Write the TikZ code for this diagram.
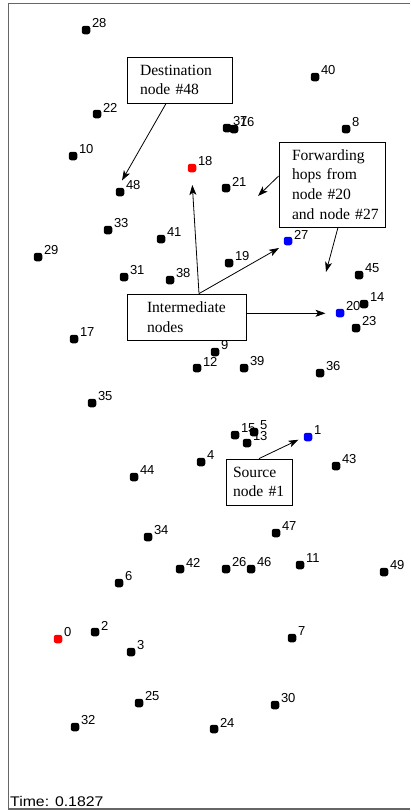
\documentclass[tikz,border=0pt]{standalone}
\usepackage{fontspec}
\setmainfont{Liberation Serif}
\newfontfamily\labfont{Liberation Sans}
\usetikzlibrary{arrows.meta,calc,backgrounds}
\tikzset{
  dotn/.style={rounded corners=2.5pt,rectangle,inner sep=0pt,minimum size=8.5pt,draw=none},
  labn/.style={inner sep=0pt,anchor=west,font=\labfont\fontsize{13}{13}\selectfont},
  boxn/.style={draw=black,line width=0.8pt,rectangle,align=left,
     font=\fontsize{15.6}{19.7}\selectfont,inner ysep=0pt},
  arr/.style={draw=black,line width=0.8pt,-{Stealth[length=10pt,width=7pt,inset=2.5pt]}},
  hop/.style={draw=black!65,line width=0.9pt},
  frame/.style={draw=black!60,line width=1.5pt}
}
\newcommand\mnode[4]{%
  \node[dotn,fill=#4] (n#1) at (#2,#3) {};
  \node[labn] (l#1) at (#2+5.8,#3-6.5) {#1};}
\begin{document}
\begin{tikzpicture}[x=1pt,y=-1pt]
\useasboundingbox (0,0) rectangle (410,811);
\fill[white] (0,0) rectangle (410,811);
\draw[frame] (410,3.5) -- (8.5,3.5) -- (8.5,809) -- (410,809);
\definecolor{nred}{RGB}{255,0,0}
\definecolor{nblue}{RGB}{0,0,255}
\mnode{0}{58}{639}{nred}
\mnode{1}{308}{437}{nblue}
\mnode{2}{95}{632}{black}
\mnode{3}{131}{652}{black}
\mnode{4}{201}{462}{black}
\mnode{5}{254}{432}{black}
\mnode{6}{119}{583}{black}
\mnode{7}{292}{638}{black}
\mnode{8}{346}{129}{black}
\mnode{9}{215}{352}{black}
\mnode{10}{73}{156}{black}
\mnode{11}{300}{565}{black}
\mnode{12}{197}{368}{black}
\mnode{13}{247}{443}{black}
\mnode{14}{364}{304}{black}
\mnode{15}{235}{435}{black}
\mnode{16}{234}{129}{black}
\mnode{17}{74}{339}{black}
\mnode{18}{192}{168}{nred}
\mnode{19}{229}{263}{black}
\mnode{20}{340}{313}{nblue}
\mnode{21}{226}{188}{black}
\mnode{22}{97}{114}{black}
\mnode{23}{356}{328}{black}
\mnode{24}{214}{729}{black}
\mnode{25}{139}{703}{black}
\mnode{26}{226}{569}{black}
\mnode{27}{288}{241}{nblue}
\mnode{28}{86}{30}{black}
\mnode{29}{38}{257}{black}
\mnode{30}{275}{705}{black}
\mnode{31}{124}{277}{black}
\mnode{32}{75}{727}{black}
\mnode{33}{108}{230}{black}
\mnode{34}{148}{537}{black}
\mnode{35}{92}{403}{black}
\mnode{36}{320}{373}{black}
\mnode{37}{227}{128}{black}
\mnode{38}{170}{280}{black}
\mnode{39}{244}{368}{black}
\mnode{40}{315}{77}{black}
\mnode{41}{161}{239}{black}
\mnode{42}{180}{569}{black}
\mnode{43}{336}{466}{black}
\mnode{44}{134}{477}{black}
\mnode{45}{359}{275}{black}
\mnode{46}{251}{569}{black}
\mnode{47}{276}{533}{black}
\mnode{48}{120}{192}{black}
\mnode{49}{384}{572}{black}
\begin{scope}[on background layer]
  \draw[hop] (n18.center) -- (n27.center) -- (n20.center) -- (n1.center);
\end{scope}
% annotation boxes
\node[boxn,inner xsep=13pt,text width=79pt,minimum height=46pt] (dest) at (179.5,80) {Destination\\node \#48};
\node[boxn,inner xsep=13pt,text width=80pt,minimum height=85pt] (fwd) at (332,184.5) {Forwarding\\hops from\\node \#20\\\mbox{and node \#27}};
\node[boxn,inner xsep=20pt,text width=79pt,minimum height=46pt] (inter) at (186.5,317) {Intermediate\\nodes};
\node[boxn,inner xsep=7pt,text width=52pt,minimum height=46pt] (src) at (259,482) {Source\\node \#1};
% arrow tips
\coordinate (t48) at (122,180.5);
\coordinate (tf1) at (258,196);
\coordinate (tf2) at (326,272);
\coordinate (ti18) at (192.3,185);
\coordinate (ti27) at (279,248);
\coordinate (ti20) at (325.5,313.3);
\coordinate (ts1) at (298.5,439.7);
\draw[arr] (dest) -- (t48);
\draw[arr] ($(fwd.west)+(0,-8.5)$) -- (tf1);
\draw[arr] ($(fwd.south)+(6,0)$) -- (tf2);
\draw[arr] ($(inter.north)+(12.5,0)$) -- (ti18);
\draw[arr] ($(inter.north)+(12.5,0)$) -- (ti27);
\draw[arr] ($(inter.east)+(0,-3.7)$) -- (ti20);
\draw[arr] (src.north) -- (ts1);
\node[inner sep=0pt,anchor=west,font=\labfont\fontsize{14}{14}\selectfont] (time) at (10,801) {\scalebox{1.13}[1]{Time: 0.1827}};
\end{tikzpicture}
\end{document}
